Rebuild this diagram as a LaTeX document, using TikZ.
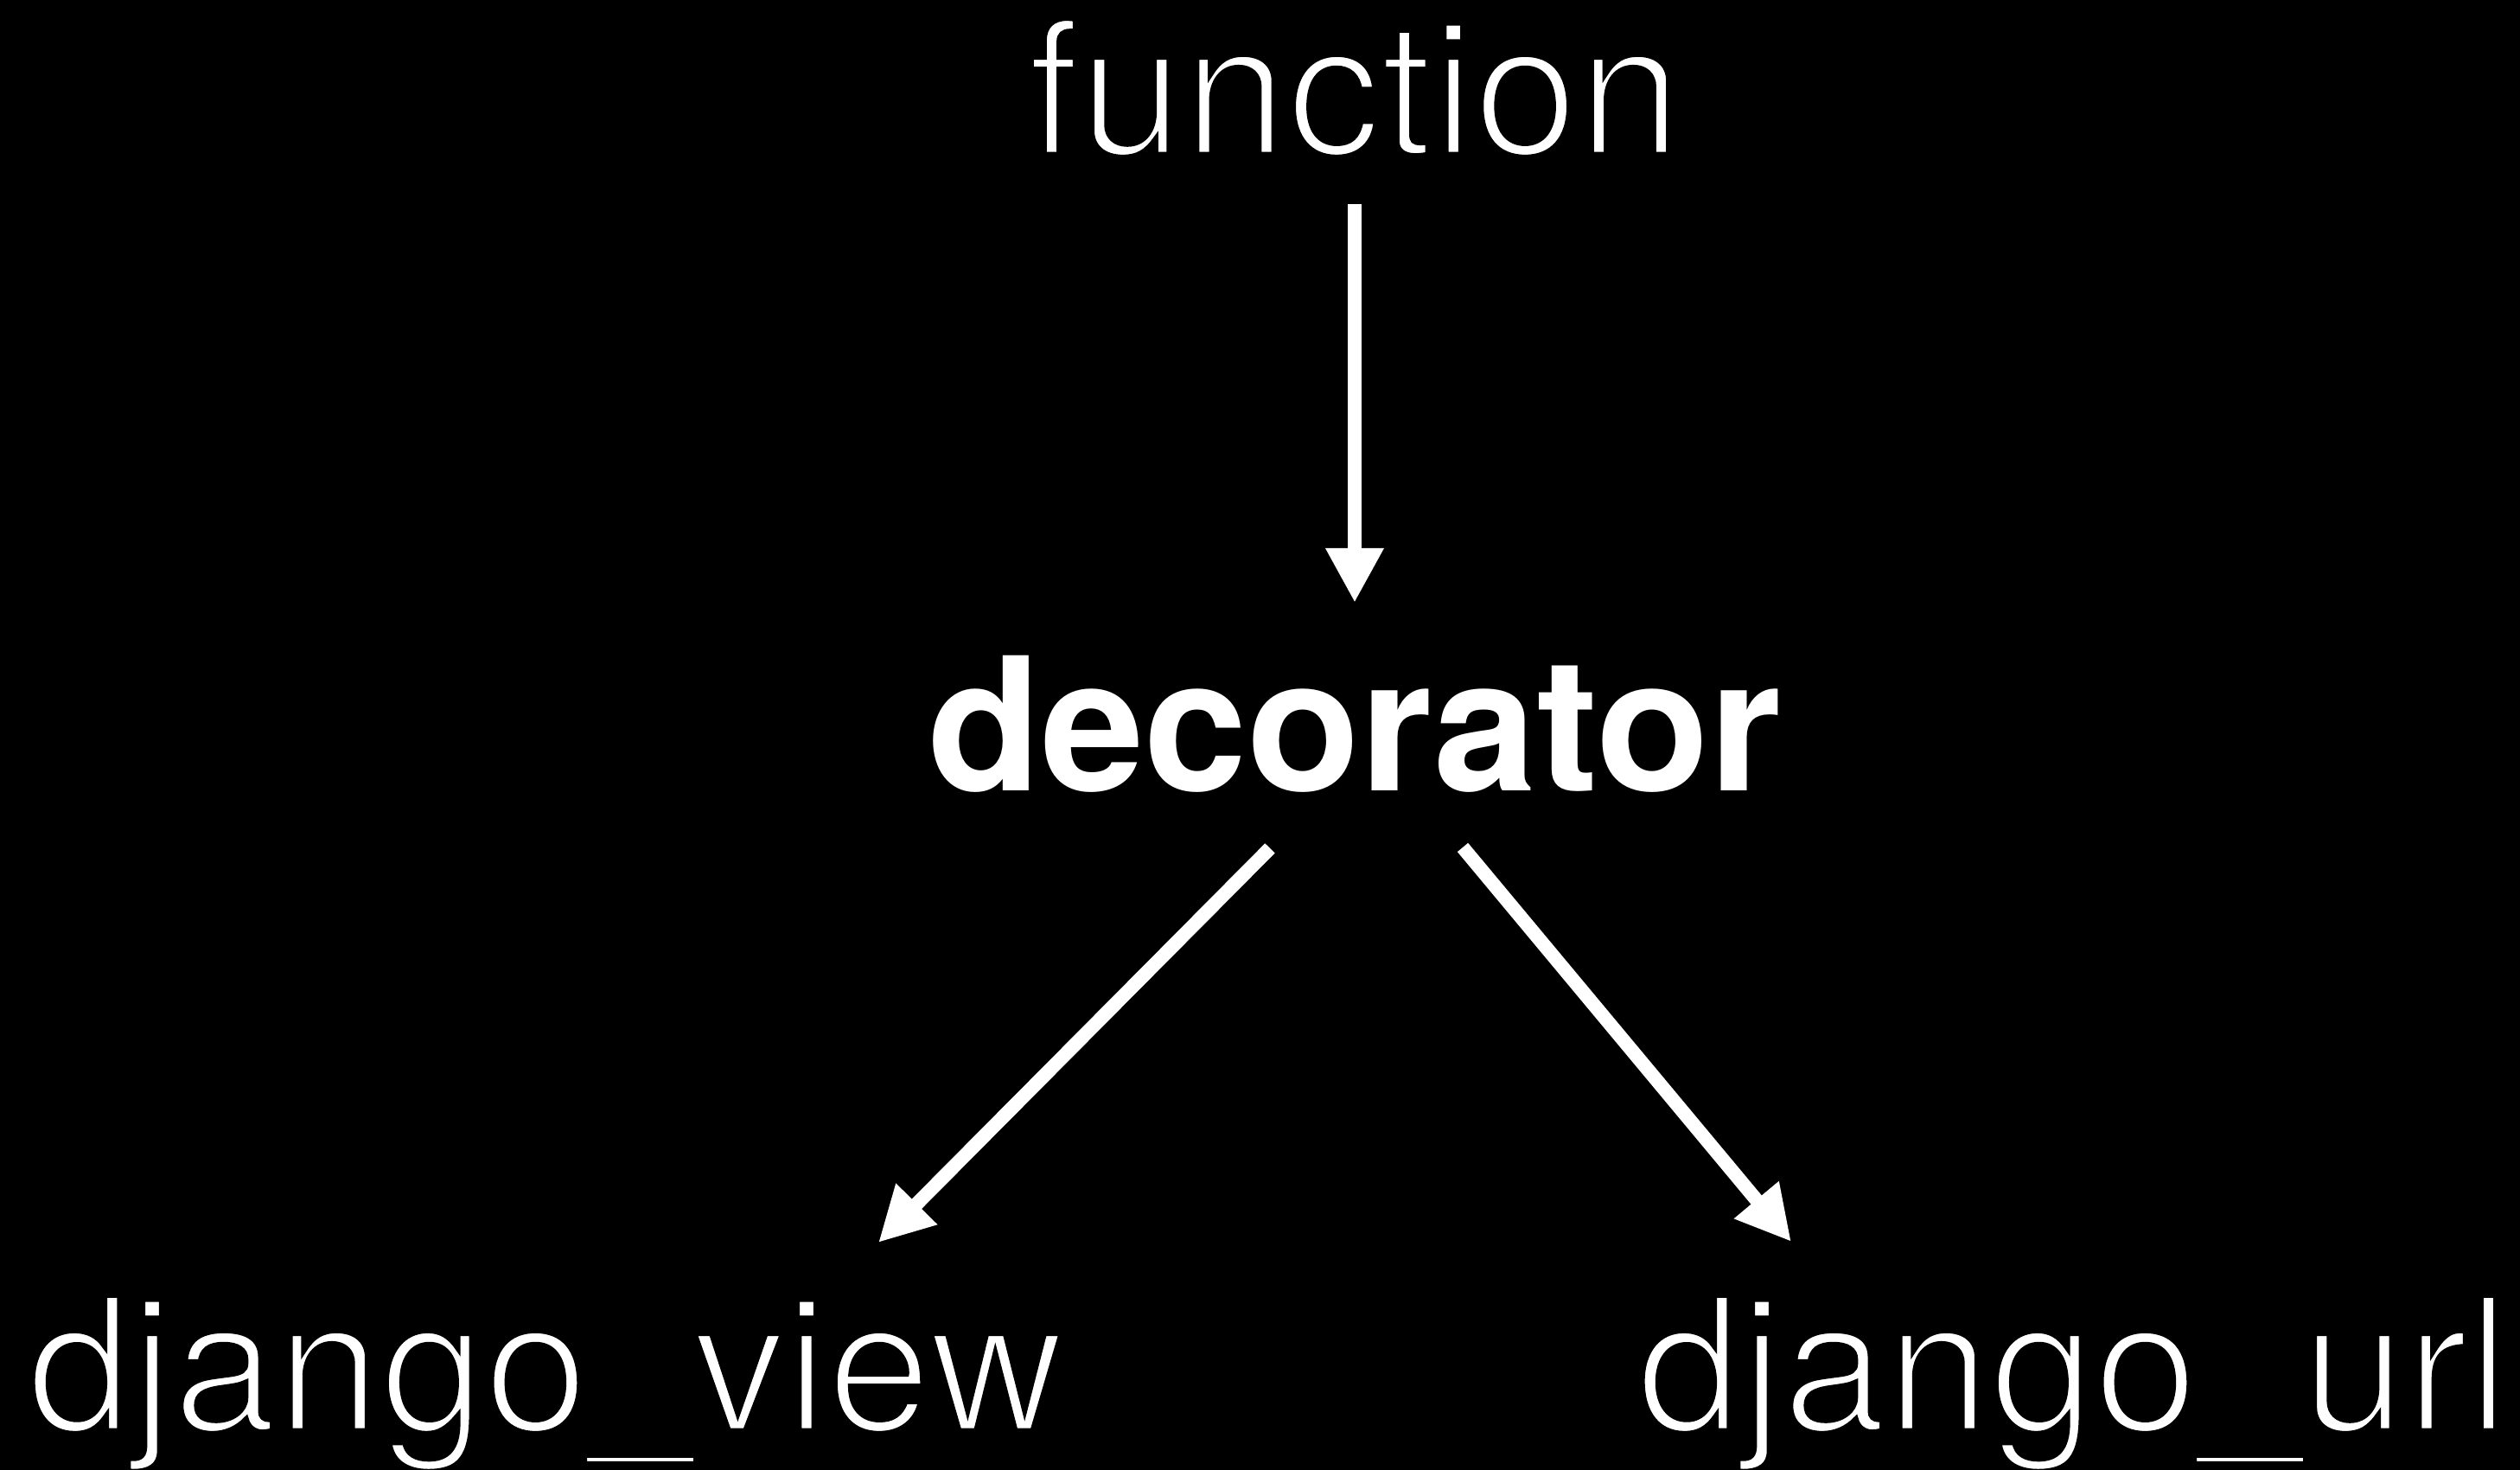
\documentclass[tikz,border=0pt]{standalone}
\usepackage{fontspec}
\setmainfont{TeX Gyre Heros}
\usetikzlibrary{arrows.meta,calc}
\newcommand{\lighttext}[1]{\special{pdf:literal direct 2 Tr 0 0 0 RG 1.9 w}#1}
\begin{document}
\begin{tikzpicture}[
  lbl/.style={text=white, inner sep=0pt, font=\fontsize{61.5}{74}\selectfont},
  conn/.style={draw=white, line width=0.16cm, -{Triangle[length=0.63cm,width=0.63cm]}}
]
\fill[black] (0,0) rectangle (29.15,17);
\useasboundingbox (0,0) rectangle (29.15,17);
\node[lbl, anchor=base] (fn) at (15.67,15.21) {\lighttext{function}};
\node[lbl, anchor=base, font=\fontsize{61}{73}\selectfont\bfseries] (dec) at (15.67,7.85) {decorator};
\node[lbl, anchor=base west] (view) at (0.31,0.45) {\lighttext{django\_view}};
\node[lbl, anchor=base west] (url) at (18.93,0.45) {\lighttext{django\_url}};
\draw[conn] ($(fn.base)+(0,-0.57)$) -- ($(dec.base)+(0,2.18)$);
\draw[conn] ($(dec.base)+(-0.98,-0.66)$) -- ($(view.base west)+(9.85,2.18)$);
\draw[conn] ($(dec.base)+(1.25,-0.65)$) -- ($(url.base west)+(1.79,2.19)$);
\end{tikzpicture}
\end{document}
